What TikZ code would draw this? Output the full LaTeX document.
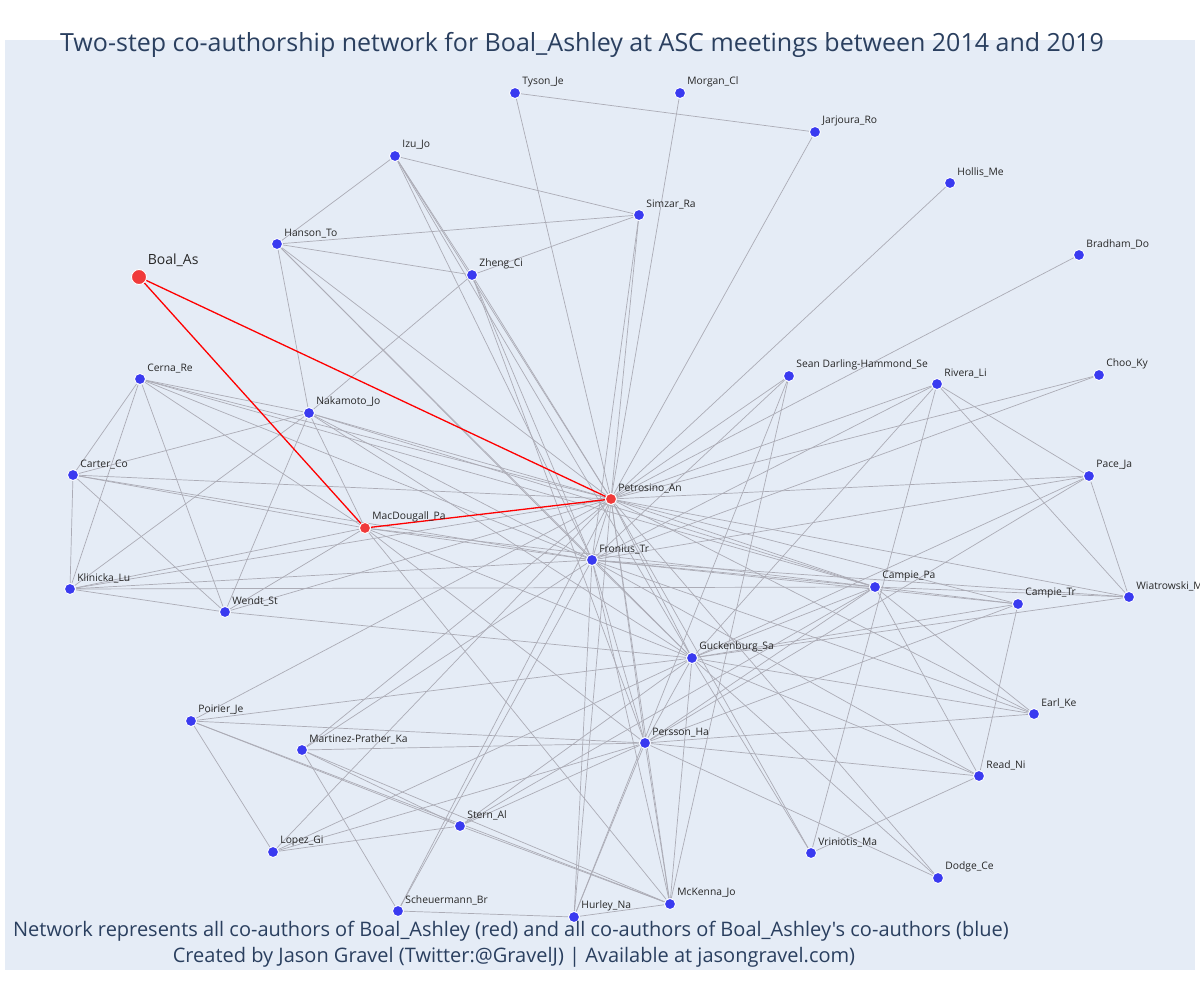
\documentclass[tikz,border=0pt]{standalone}
\usepackage{fontspec}
\setmainfont{Open Sans}[Ligatures=TeXOff]

\definecolor{plotbg}{RGB}{229,236,246}
\definecolor{titlecol}{RGB}{42,63,95}
\definecolor{authblue}{RGB}{58,58,240}
\definecolor{authred}{RGB}{240,58,58}
\definecolor{edgegray}{RGB}{172,172,182}

\pgfdeclarelayer{bg}
\pgfdeclarelayer{edges}
\pgfsetlayers{bg,edges,main}

\tikzset{
  author/.style={circle, fill=authblue, draw=white, line width=0.9pt, inner sep=0pt, minimum size=11pt},
  coauthor/.style={author, fill=authred},
  lbl/.style={font=\fontsize{10.3}{12}\selectfont, text=black!85, inner sep=0pt, xshift=3pt, yshift=2pt},
  link/.style={draw=edgegray, line width=0.7pt},
  redlink/.style={draw=red, line width=1.3pt},
  caption/.style={text=titlecol, inner sep=0pt}
}

\begin{document}
\begin{tikzpicture}[x=1pt, y=-1pt]
      \useasboundingbox (0,0) rectangle (1200,1000);
      \begin{pgfonlayer}{bg}
        \fill[white] (0,0) rectangle (1200,1000);
        \fill[plotbg] (5,40) rectangle (1195,970);
      \end{pgfonlayer}

      % Boal_Ashley and her co-authors
      \node[coauthor, minimum size=15pt, label={[lbl, font=\fontsize{14}{16}\selectfont, xshift=0pt, yshift=3pt]above right:Boal\_As}] (boal) at (139,277) {};
      \node[coauthor, label={[lbl]above right:MacDougall\_Pa}] (macd) at (365,528) {};
      \node[coauthor, label={[lbl]above right:Petrosino\_An}] (petro) at (611,499) {};

      % co-authors of the co-authors
      \node[author, label={[lbl]above right:Fronius\_Tr}] (fron) at (592,560) {};
      \node[author, label={[lbl]above right:Tyson\_Je}] (tyson) at (515,93) {};
      \node[author, label={[lbl]above right:Morgan\_Cl}] (morgan) at (680,93) {};
      \node[author, label={[lbl]above right:Jarjoura\_Ro}] (jarj) at (815,132) {};
      \node[author, label={[lbl]above right:Izu\_Jo}] (izu) at (395,156) {};
      \node[author, label={[lbl]above right:Hollis\_Me}] (hollis) at (950,183) {};
      \node[author, label={[lbl]above right:Simzar\_Ra}] (simzar) at (639,215) {};
      \node[author, label={[lbl]above right:Hanson\_To}] (hanson) at (277,244) {};
      \node[author, label={[lbl]above right:Zheng\_Ci}] (zheng) at (472,275) {};
      \node[author, label={[lbl]above right:Bradham\_Do}] (bradham) at (1079,255) {};
      \node[author, label={[lbl]above right:Sean Darling-Hammond\_Se}] (sean) at (789,376) {};
      \node[author, label={[lbl]above right:Rivera\_Li}] (rivera) at (937,384) {};
      \node[author, label={[lbl]above right:Choo\_Ky}] (choo) at (1099,375) {};
      \node[author, label={[lbl]above right:Cerna\_Re}] (cerna) at (140,379) {};
      \node[author, label={[lbl]above right:Nakamoto\_Jo}] (naka) at (309,413) {};
      \node[author, label={[lbl]above right:Carter\_Co}] (carter) at (73,475) {};
      \node[author, label={[lbl]above right:Pace\_Ja}] (pace) at (1089,476) {};
      \node[author, label={[lbl]above right:Klinicka\_Lu}] (klin) at (70,589) {};
      \node[author, label={[lbl]above right:Campie\_Pa}] (campa) at (875,587) {};
      \node[author, label={[lbl]above right:Wiatrowski\_M}] (wiat) at (1129,597) {};
      \node[author, label={[lbl]above right:Campie\_Tr}] (camtr) at (1018,604) {};
      \node[author, label={[lbl]above right:Wendt\_St}] (wendt) at (225,612) {};
      \node[author, label={[lbl]above right:Guckenburg\_Sa}] (guck) at (692,658) {};
      \node[author, label={[lbl]above right:Poirier\_Je}] (poir) at (191,721) {};
      \node[author, label={[lbl]above right:Earl\_Ke}] (earl) at (1034,714) {};
      \node[author, label={[lbl]above right:Martinez-Prather\_Ka}] (mart) at (302,750) {};
      \node[author, label={[lbl]above right:Persson\_Ha}] (pers) at (645,743) {};
      \node[author, label={[lbl]above right:Read\_Ni}] (read) at (979,776) {};
      \node[author, label={[lbl]above right:Stern\_Al}] (stern) at (460,826) {};
      \node[author, label={[lbl]above right:Lopez\_Gi}] (lopez) at (273,852) {};
      \node[author, label={[lbl]above right:Vriniotis\_Ma}] (vrin) at (811,853) {};
      \node[author, label={[lbl]above right:Dodge\_Ce}] (dodge) at (938,878) {};
      \node[author, label={[lbl]above right:McKenna\_Jo}] (mcken) at (670,904) {};
      \node[author, label={[lbl]above right:Scheuermann\_Br}] (scheu) at (398,911) {};
      \node[author, label={[lbl]above right:Hurley\_Na}] (hurley) at (574,917) {};

      \begin{pgfonlayer}{edges}
        \foreach \a/\b in {tyson/jarj, tyson/petro, morgan/petro, jarj/petro, hollis/petro, bradham/petro,
            izu/hanson, izu/simzar, izu/zheng, izu/petro, izu/fron, izu/guck,
            hanson/simzar, hanson/zheng, hanson/naka, hanson/petro, hanson/fron, hanson/guck,
            zheng/simzar, zheng/naka, zheng/petro, zheng/fron, zheng/pers, simzar/petro, simzar/fron,
            cerna/carter, cerna/klin, cerna/wendt, cerna/naka, cerna/macd, cerna/petro, cerna/fron, cerna/campa,
            carter/klin, carter/naka, carter/wendt, carter/macd, carter/petro, carter/fron,
            klin/naka, klin/wendt, klin/macd, klin/petro, klin/fron, klin/campa,
            wendt/naka, wendt/macd, wendt/petro, wendt/guck,
            naka/macd, naka/petro, naka/fron, naka/campa, naka/guck,
            macd/fron, macd/campa, macd/guck, macd/pers, macd/mcken, petro/fron,
            rivera/pace, rivera/wiat, rivera/petro, rivera/fron, rivera/guck, rivera/vrin,
            choo/petro, choo/fron, pace/wiat, pace/petro, pace/fron, pace/guck, pace/pers,
            wiat/petro, wiat/fron, wiat/campa, wiat/guck,
            sean/petro, sean/fron, sean/mcken, sean/hurley,
            campa/petro, campa/fron, campa/guck, campa/pers, campa/camtr, campa/earl, campa/read, campa/stern,
            camtr/petro, camtr/fron, camtr/guck, camtr/pers, camtr/read,
            earl/petro, earl/fron, earl/guck, earl/pers,
            read/fron, read/guck, read/pers, read/vrin,
            dodge/petro, dodge/guck, dodge/pers, vrin/petro, vrin/guck,
            guck/petro, guck/fron, guck/pers, pers/petro, pers/fron,
            poir/petro, poir/guck, poir/pers, poir/lopez, poir/stern, poir/mcken,
            lopez/petro, lopez/guck, lopez/pers, lopez/stern,
            mart/petro, mart/fron, mart/pers, mart/scheu, mart/stern, mart/mcken,
            stern/guck, stern/pers, stern/mcken,
            scheu/petro, scheu/fron, scheu/hurley,
            hurley/petro, hurley/fron, hurley/pers, hurley/mcken,
            mcken/petro, mcken/fron, mcken/guck, mcken/pers}
          \draw[link] (\a) -- (\b);
        \foreach \a/\b in {boal/macd, boal/petro, macd/petro}
          \draw[redlink] (\a) -- (\b);
      \end{pgfonlayer}

      \node[caption, font=\fontsize{25}{29}\selectfont] (title) at (582,45) {Two-step co-authorship network for Boal\_Ashley at ASC meetings between 2014 and 2019};
      \node[caption, font=\fontsize{20}{24}\selectfont] (note) at (511,931) {Network represents all co-authors of Boal\_Ashley (red) and all co-authors of Boal\_Ashley's co-authors (blue)};
      \node[caption, font=\fontsize{20}{24}\selectfont] (credit) at (514,957) {Created by Jason Gravel (Twitter:@GravelJ) | Available at jasongravel.com)};
    \end{tikzpicture}
\end{document}
